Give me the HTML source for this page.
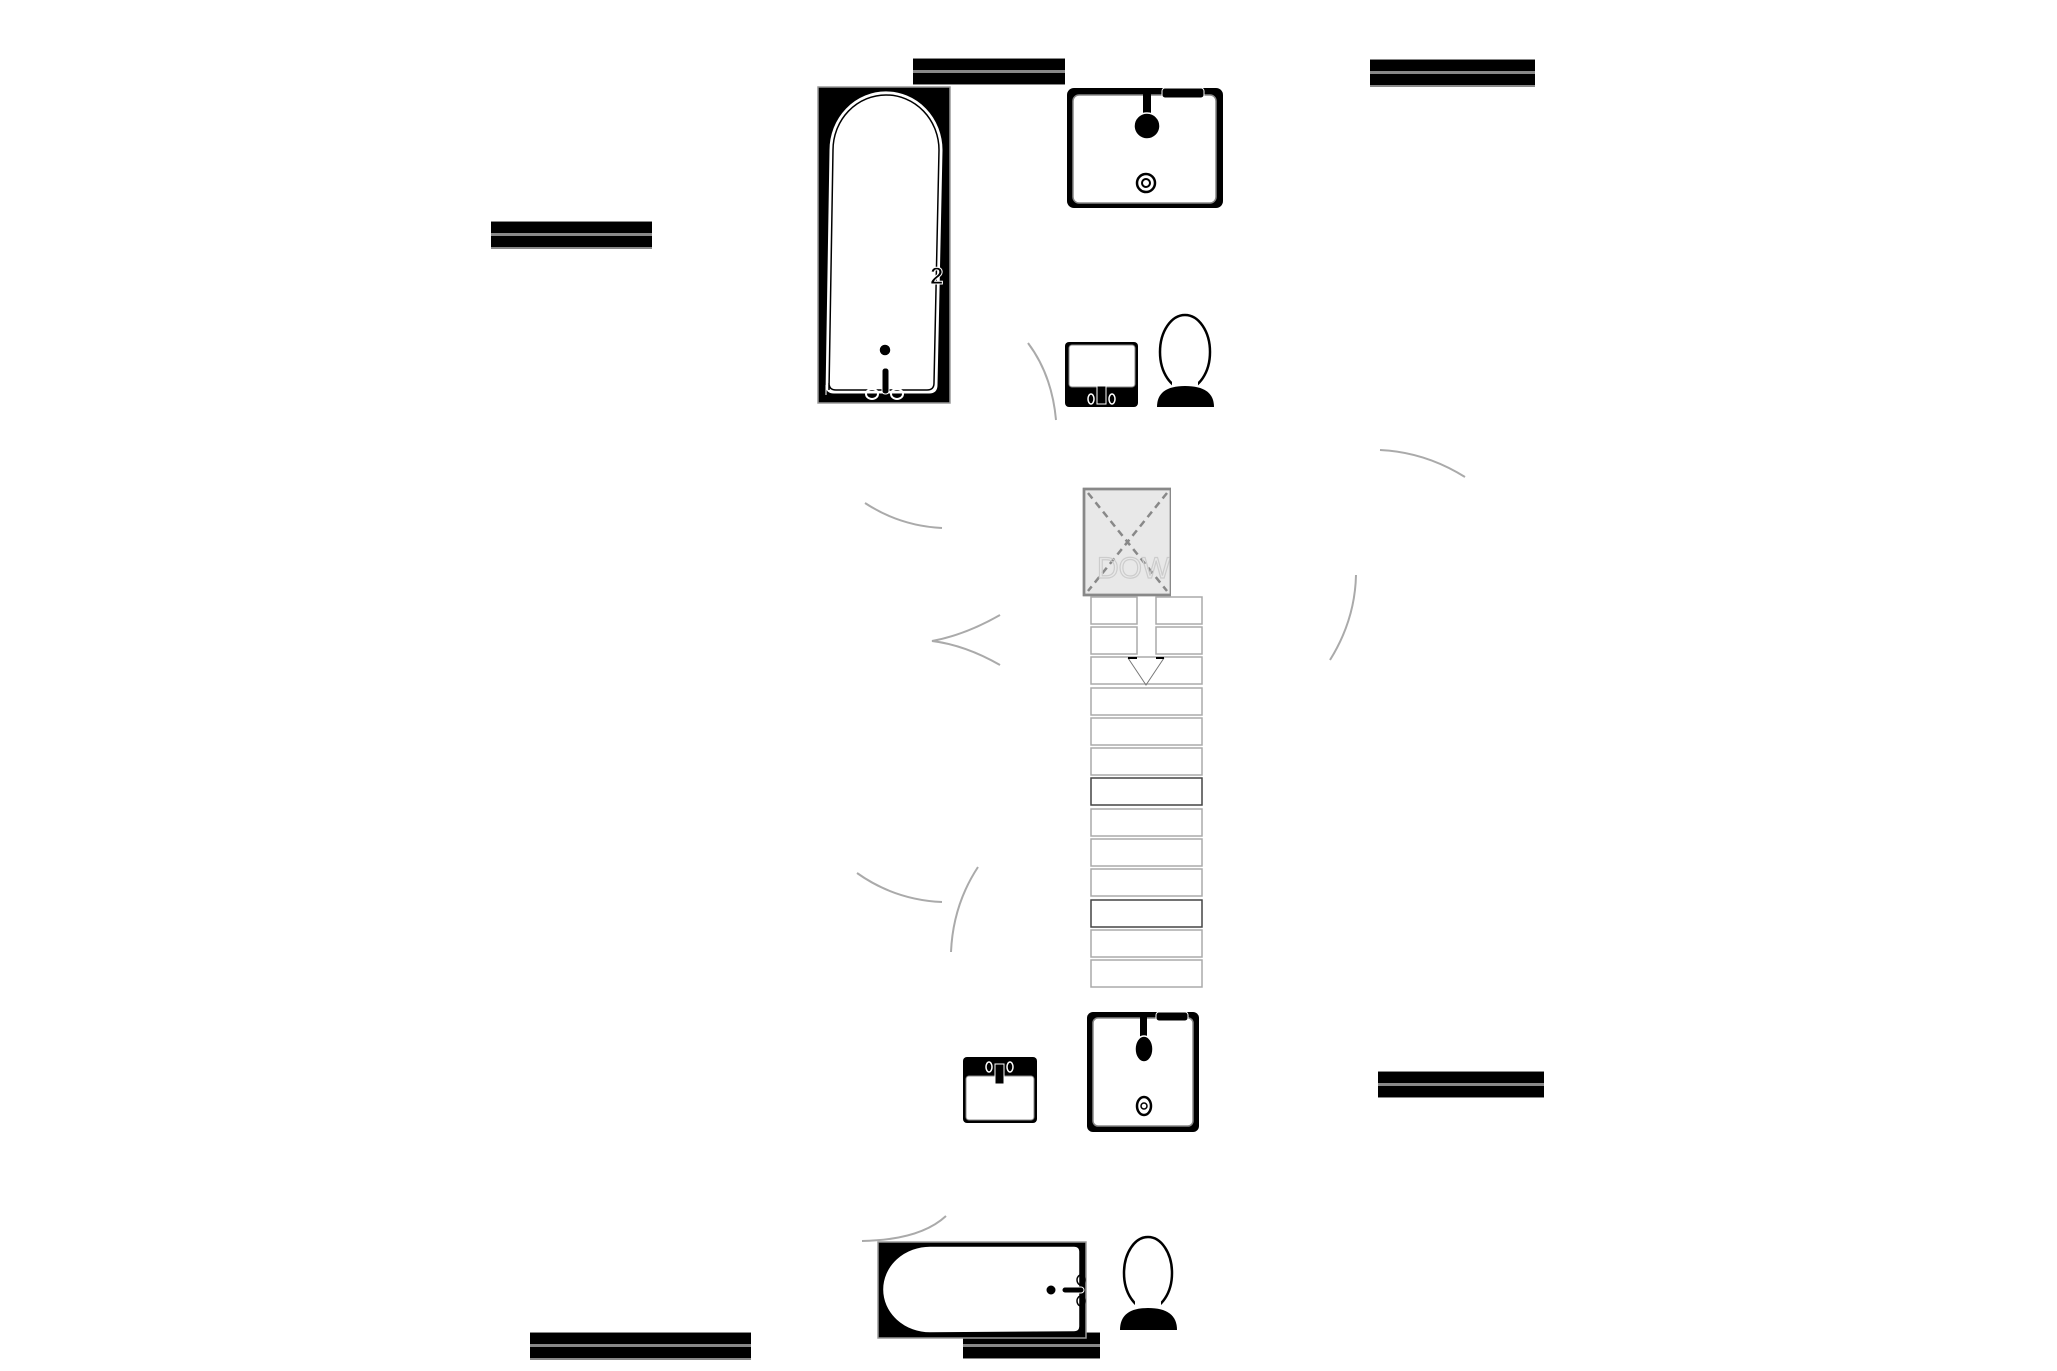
<!DOCTYPE html>
<html><head><meta charset="utf-8"><style>
html,body{margin:0;padding:0;background:#fff;}
svg{display:block;}
</style></head><body>
<svg width="2057" height="1371" viewBox="0 0 2057 1371" xmlns="http://www.w3.org/2000/svg">
<!-- wall bars -->
<g><rect x="913" y="58" width="152" height="27" fill="#888"/><rect x="913" y="59" width="152" height="11" fill="#000"/><rect x="913" y="73" width="152" height="11" fill="#000"/></g>
<g><rect x="1370" y="59" width="165" height="28" fill="#888"/><rect x="1370" y="60" width="165" height="11" fill="#000"/><rect x="1370" y="74" width="165" height="11" fill="#000"/></g>
<g><rect x="491" y="221" width="161" height="28" fill="#888"/><rect x="491" y="222" width="161" height="11" fill="#000"/><rect x="491" y="236" width="161" height="11" fill="#000"/></g>
<g><rect x="1378" y="1071" width="166" height="27" fill="#888"/><rect x="1378" y="1072" width="166" height="11" fill="#000"/><rect x="1378" y="1086" width="166" height="11" fill="#000"/></g>
<g><rect x="530" y="1332" width="221" height="28" fill="#888"/><rect x="530" y="1333" width="221" height="11" fill="#000"/><rect x="530" y="1347" width="221" height="11" fill="#000"/></g>
<g><rect x="963" y="1332" width="137" height="27" fill="#888"/><rect x="963" y="1333" width="137" height="11" fill="#000"/><rect x="963" y="1347" width="137" height="11" fill="#000"/></g>

<!-- top tub -->
<rect x="818" y="87" width="132" height="316" fill="#000" stroke="#999" stroke-width="1.5"/>
<path d="M826,395 L830,150 A54,56 0 0 1 942,150 L937,385 Q937,393 929,393 L834,393 Q826,393 826,385 Z" fill="#fff" stroke="#fff" stroke-width="1"/>
<path d="M829,390 L833,150 A52,54 0 0 1 939,150 L934,383 Q934,390 927,390 L836,390 Q829,390 829,383 Z" fill="#fff" stroke="#000" stroke-width="1.5"/>
<circle cx="885" cy="350" r="6" fill="#000" stroke="#fff" stroke-width="1.5"/>
<rect x="882" y="368" width="7" height="26" rx="3" fill="#000" stroke="#fff" stroke-width="1"/>
<ellipse cx="872" cy="394" rx="6" ry="5" fill="none" stroke="#fff" stroke-width="2"/>
<ellipse cx="897" cy="394" rx="6" ry="5" fill="none" stroke="#fff" stroke-width="2"/>
<text x="930" y="284" font-family="Liberation Sans, sans-serif" font-size="24" font-weight="bold" fill="#000" stroke="#fff" stroke-width="1">2</text>

<!-- top right sink -->
<rect x="1067" y="88" width="156" height="120" rx="7" fill="#000"/>
<rect x="1073" y="95" width="143" height="108" rx="6" fill="#fff" stroke="#888" stroke-width="1.5"/>
<rect x="1162" y="88" width="42" height="10" rx="3" fill="#000" stroke="#fff" stroke-width="1"/>
<rect x="1143" y="88" width="8" height="28" fill="#000"/>
<circle cx="1147" cy="126" r="13" fill="#000" stroke="#fff" stroke-width="1.5"/>
<circle cx="1146" cy="183" r="9" fill="#fff" stroke="#000" stroke-width="2.5"/>
<circle cx="1146" cy="183" r="4" fill="none" stroke="#000" stroke-width="2"/>

<!-- small sink top -->
<rect x="1065" y="342" width="73" height="65" rx="4" fill="#000"/>
<rect x="1069" y="345" width="66" height="42" rx="3" fill="#fff" stroke="#888" stroke-width="1"/>
<rect x="1097" y="386" width="9" height="18" fill="#000" stroke="#fff" stroke-width="1"/>
<ellipse cx="1091" cy="399" rx="3" ry="5" fill="none" stroke="#fff" stroke-width="1.5"/>
<ellipse cx="1112" cy="399" rx="3" ry="5" fill="none" stroke="#fff" stroke-width="1.5"/>

<!-- toilet top -->
<ellipse cx="1185" cy="352" rx="25" ry="37" fill="#fff" stroke="#000" stroke-width="2.5"/>
<rect x="1172" y="378" width="26" height="12" fill="#fff"/>
<path d="M1157,407 Q1157,386 1185,386 Q1214,386 1214,407 Z" fill="#000"/>

<!-- arcs -->
<g fill="none" stroke="#aaa" stroke-width="2">
<path d="M1028,343 Q1052,375 1056,420"/>
<path d="M865,503 Q900,526 942,528"/>
<path d="M1000,615 Q965,635 932,641 Q965,645 1000,665"/>
<path d="M857,873 Q895,900 942,902"/>
<path d="M978,867 Q953,905 951,952"/>
<path d="M1380,450 Q1425,452 1465,477"/>
<path d="M1356,575 Q1355,620 1330,660"/>
<path d="M862,1241 Q920,1240 946,1216"/>
</g>

<!-- stair box -->
<rect x="1084" y="489" width="87" height="106" fill="#e8e8e8" stroke="#888" stroke-width="2.5"/>
<g stroke="#888" stroke-width="2.5" stroke-dasharray="7,5">
<line x1="1088" y1="493" x2="1167" y2="591"/>
<line x1="1167" y1="493" x2="1088" y2="591"/>
</g>
<text x="1097" y="578" font-family="Liberation Sans, sans-serif" font-size="30" fill="none" stroke="#ccc" stroke-width="1.2">DOWN</text>
<rect x="1084" y="489" width="87" height="106" fill="none" stroke="#888" stroke-width="2.5"/>
<rect x="1171" y="480" width="40" height="120" fill="#fff"/>

<!-- treads -->
<g fill="#fff" stroke="#aaa" stroke-width="1.5">
<rect x="1091" y="597" width="46" height="27"/>
<rect x="1156" y="597" width="46" height="27"/>
<rect x="1091" y="627" width="46" height="27"/>
<rect x="1156" y="627" width="46" height="27"/>
<rect x="1091" y="657" width="111" height="27"/>
<rect x="1091" y="688" width="111" height="27"/>
<rect x="1091" y="718" width="111" height="27"/>
<rect x="1091" y="748" width="111" height="27"/>
<rect x="1091" y="778" width="111" height="27" stroke="#444"/>
<rect x="1091" y="809" width="111" height="27"/>
<rect x="1091" y="839" width="111" height="27"/>
<rect x="1091" y="869" width="111" height="27"/>
<rect x="1091" y="900" width="111" height="27" stroke="#444"/>
<rect x="1091" y="930" width="111" height="27"/>
<rect x="1091" y="960" width="111" height="27"/>
</g>
<polyline points="1128,658 1146,685 1164,658" fill="none" stroke="#777" stroke-width="1"/>
<line x1="1128" y1="658" x2="1137" y2="658" stroke="#000" stroke-width="2"/>
<line x1="1156" y1="658" x2="1164" y2="658" stroke="#000" stroke-width="2"/>

<!-- bottom small sink -->
<rect x="963" y="1057" width="74" height="66" rx="4" fill="#000"/>
<rect x="966" y="1076" width="68" height="44" rx="3" fill="#fff" stroke="#888" stroke-width="1"/>
<rect x="995" y="1064" width="9" height="20" fill="#000" stroke="#fff" stroke-width="1"/>
<ellipse cx="989" cy="1067" rx="3" ry="5" fill="none" stroke="#fff" stroke-width="1.5"/>
<ellipse cx="1010" cy="1067" rx="3" ry="5" fill="none" stroke="#fff" stroke-width="1.5"/>

<!-- bottom square sink -->
<rect x="1087" y="1012" width="112" height="120" rx="6" fill="#000"/>
<rect x="1093" y="1018" width="100" height="108" rx="5" fill="#fff" stroke="#888" stroke-width="1.5"/>
<rect x="1156" y="1012" width="32" height="9" rx="3" fill="#000" stroke="#fff" stroke-width="1"/>
<rect x="1140" y="1012" width="7" height="26" fill="#000"/>
<ellipse cx="1144" cy="1049" rx="9" ry="13" fill="#000" stroke="#fff" stroke-width="1.5"/>
<ellipse cx="1144" cy="1106" rx="7" ry="9" fill="#fff" stroke="#000" stroke-width="2.5"/>
<circle cx="1144" cy="1106" r="3" fill="none" stroke="#000" stroke-width="1.5"/>

<!-- bottom tub -->
<rect x="878" y="1242" width="208" height="96" fill="#000" stroke="#999" stroke-width="1.5"/>
<path d="M930,1246 L1074,1246 Q1080,1246 1080,1252 L1080,1326 Q1080,1332 1074,1332 L930,1333 A47,43 0 0 1 930,1246 Z" fill="#fff" stroke="#000" stroke-width="1.5"/>
<circle cx="1051" cy="1290" r="5" fill="#000" stroke="#fff" stroke-width="1"/>
<rect x="1062" y="1287" width="22" height="6" rx="3" fill="#000" stroke="#fff" stroke-width="1"/>
<ellipse cx="1081" cy="1280" rx="4" ry="5" fill="none" stroke="#000" stroke-width="1.5"/>
<ellipse cx="1081" cy="1301" rx="4" ry="5" fill="none" stroke="#000" stroke-width="1.5"/>

<!-- bottom toilet -->
<ellipse cx="1148" cy="1273" rx="24" ry="36" fill="#fff" stroke="#000" stroke-width="2.5"/>
<rect x="1135" y="1298" width="26" height="12" fill="#fff"/>
<path d="M1120,1330 Q1120,1308 1148,1308 Q1177,1308 1177,1330 Z" fill="#000"/>
</svg>
</body></html>
